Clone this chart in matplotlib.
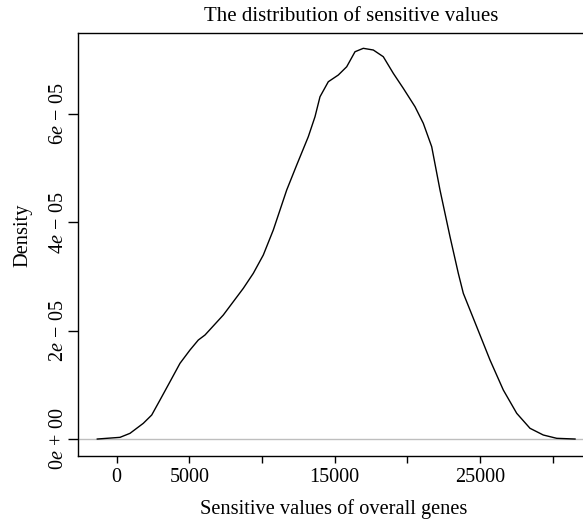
import numpy as np
import matplotlib
matplotlib.use("Agg")
import matplotlib.pyplot as plt

# === DATOS ===
valores_x = [-1335, 227, 915, 1831, 2409, 2980, 3668, 4356, 5044, 5616, 6077,
             7336, 8713, 9401, 10089, 10777, 11699, 12388, 13186, 13647, 13991,
             14562, 15250, 15829, 16400, 16971, 17659, 18347, 19036, 19724,
             20529, 21100, 21678, 22249, 22938, 23509, 23853, 24775, 25690,
             26606, 27528, 28443, 29358, 30281, 31541]
densidad = [0.0, 3.1e-7, 1.05e-6, 2.90e-6, 4.43e-6, 7.20e-6, 1.058e-5, 1.398e-5,
            1.644e-5, 1.828e-5, 1.921e-5, 2.290e-5, 2.783e-5, 3.060e-5, 3.398e-5,
            3.860e-5, 4.598e-5, 5.060e-5, 5.583e-5, 5.952e-5, 6.321e-5, 6.598e-5,
            6.722e-5, 6.875e-5, 7.152e-5, 7.215e-5, 7.184e-5, 7.060e-5, 6.753e-5,
            6.476e-5, 6.137e-5, 5.830e-5, 5.398e-5, 4.598e-5, 3.736e-5, 3.060e-5,
            2.691e-5, 2.074e-5, 1.459e-5, 9.05e-6, 4.75e-6, 1.98e-6, 7.4e-7,
            1.3e-7, 0.0]

ticks_x = [0, 5000, 10000, 15000, 20000, 25000, 30000]
etiquetas_x = ["0", "5000", "", "15000", "", "25000", ""]
ticks_y = [0, 2e-5, 4e-5, 6e-5]
etiquetas_y = [r"$0e\,+\,00$", r"$2e\,-\,05$", r"$4e\,-\,05$", r"$6e\,-\,05$"]

# === ESTILO ===
plt.rcParams["font.family"] = "Liberation Serif"
plt.rcParams["mathtext.fontset"] = "custom"
plt.rcParams["mathtext.rm"] = "Liberation Serif"
plt.rcParams["mathtext.it"] = "Liberation Serif:italic"

fig = plt.figure(figsize=(5.83, 5.24), dpi=100)
ax = fig.add_axes([78 / 583, 1 - 455.7 / 524, 1 - 78 / 583, (455.7 - 33) / 524])

ax.axhline(0, color="#bebebe", linewidth=1)
ax.plot(valores_x, densidad, color="black", linewidth=1)

ax.set_xlim(-2663, 32090)
ax.set_ylim(-3.08e-6, 7.498e-5)

ax.set_xticks(ticks_x)
ax.set_xticklabels(etiquetas_x, fontsize=14.5)
ax.set_yticks(ticks_y)
ax.set_yticklabels(etiquetas_y, fontsize=14.5, rotation=90, va="center")

ax.tick_params(axis="x", length=5, width=1, pad=4)
ax.tick_params(axis="y", length=7, width=1, pad=0.5)

ax.spines["right"].set_visible(False)
for lado in ["top", "left", "bottom"]:
    ax.spines[lado].set_linewidth(1)

ax.set_title("The distribution of sensitive values", fontsize=15,
             x=0.5406, y=1.0284, pad=0)
ax.set_xlabel("Sensitive values of overall genes", fontsize=14.7)
ax.xaxis.set_label_coords(0.507, -0.1024)
ax.set_ylabel("Density", fontsize=14.7)
ax.yaxis.set_label_coords(-0.0911, 0.521)

plt.savefig("out.png", dpi=100)
